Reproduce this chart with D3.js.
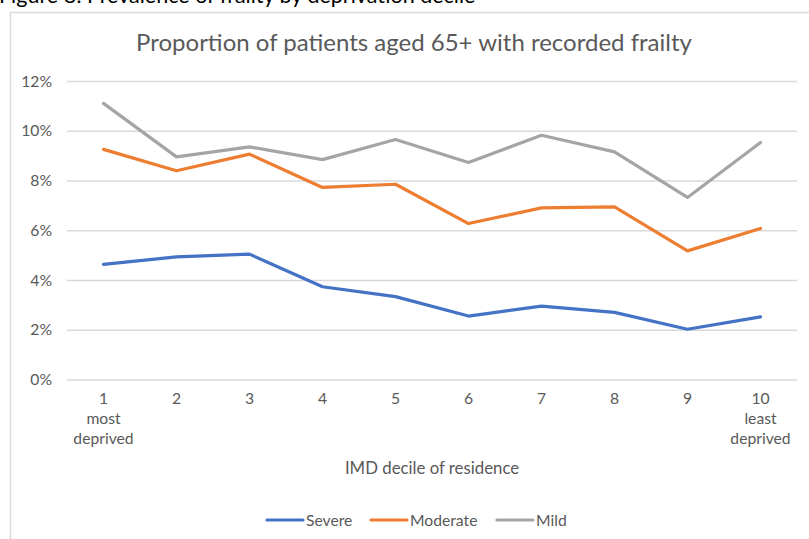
<!DOCTYPE html>
<html>
<head>
<meta charset="utf-8">
<script src="https://cdn.jsdelivr.net/npm/d3@7"></script>
<style>
  html, body { margin: 0; padding: 0; background: #fff; }
  svg { display: block; }
  text { font-family: Lato, "Open Sans", sans-serif; }
</style>
</head>
<body>
<svg id="chart" width="809" height="539"></svg>
<script>
// IMD deciles (1 = most deprived, 10 = least deprived)
const deciles = [1, 2, 3, 4, 5, 6, 7, 8, 9, 10];
const decileNotes = { 1: ["most", "deprived"], 10: ["least", "deprived"] };

// Percentage of patients aged 65+ with recorded frailty, by severity
const severe   = [4.63, 4.93, 5.04, 3.73, 3.33, 2.55, 2.95, 2.70, 2.02, 2.52];
const moderate = [9.25, 8.39, 9.06, 7.72, 7.85, 6.27, 6.90, 6.94, 5.17, 6.07];
const mild     = [11.10, 8.95, 9.35, 8.84, 9.65, 8.72, 9.82, 9.15, 7.32, 9.53];

const yTicks = [0, 2, 4, 6, 8, 10, 12];

const seriesNames = ["Severe", "Moderate", "Mild"];
const seriesColors = ["#4472C4", "#ED7D31", "#A5A5A5"];
const seriesValues = [severe, moderate, mild];

const svg = d3.select("#chart");
const W = 809, H = 539;
const labelSize = 15.7;

// Document caption above the chart frame
svg.append("text")
  .attr("x", -1).attr("y", 3)
  .attr("font-size", 21.5)
  .attr("fill", "#000")
  .text("Figure 8: Prevalence of frailty by deprivation decile");

// Chart frame
svg.append("rect")
  .attr("x", 10.5).attr("y", 12.5)
  .attr("width", W + 10).attr("height", H + 10)
  .attr("fill", "#fff")
  .attr("stroke", "#D9D9D9")
  .attr("stroke-width", 1.5);

const plot = { left: 67, right: 797, top: 81, bottom: 379.5 };

const x = d3.scaleBand()
  .domain(deciles)
  .range([plot.left, plot.right]);

const y = d3.scaleLinear()
  .domain([0, 12])
  .range([plot.bottom, plot.top]);

// Title
svg.append("text")
  .attr("x", 414).attr("y", 51)
  .attr("text-anchor", "middle")
  .attr("font-size", 24)
  .attr("fill", "#595959")
  .text("Proportion of patients aged 65+ with recorded frailty");

// Horizontal gridlines and y labels
const yAxis = d3.axisLeft(y)
  .tickValues(yTicks)
  .tickSize(-(plot.right - plot.left))
  .tickPadding(15)
  .tickFormat(d => d + "%");

const gy = svg.append("g")
  .attr("transform", `translate(${plot.left},0)`)
  .call(yAxis);
gy.select(".domain").remove();
gy.selectAll(".tick line").attr("stroke", "#D9D9D9").attr("stroke-width", 1.3);
gy.selectAll(".tick text")
  .attr("fill", "#595959")
  .attr("font-size", labelSize)
  .attr("font-family", "Lato, sans-serif");

// X axis labels
const xAxis = d3.axisBottom(x).tickSize(0).tickPadding(13);
const gx = svg.append("g")
  .attr("transform", `translate(0,${plot.bottom})`)
  .call(xAxis);
gx.select(".domain").remove();
gx.selectAll(".tick text")
  .attr("fill", "#595959")
  .attr("font-size", labelSize)
  .attr("font-family", "Lato, sans-serif")
  .each(function(d) {
    const notes = decileNotes[d];
    if (!notes) return;
    const t = d3.select(this);
    notes.forEach(n => {
      t.append("tspan")
        .attr("x", 0)
        .attr("dy", "1.27em")
        .text(n);
    });
  });

// X axis title
svg.append("text")
  .attr("x", 432).attr("y", 474)
  .attr("text-anchor", "middle")
  .attr("font-size", 16.8)
  .attr("fill", "#595959")
  .text("IMD decile of residence");

// Series lines
const line = d3.line()
  .x((d, i) => x(deciles[i]) + x.bandwidth() / 2)
  .y(d => y(d));

seriesValues.forEach((vals, k) => {
  svg.append("path")
    .datum(vals)
    .attr("d", line)
    .attr("fill", "none")
    .attr("stroke", seriesColors[k])
    .attr("stroke-width", 3.2)
    .attr("stroke-linejoin", "round")
    .attr("stroke-linecap", "round");
});

// Legend
const legendItems = [
  { name: seriesNames[0], color: seriesColors[0], x: 267 },
  { name: seriesNames[1], color: seriesColors[1], x: 371 },
  { name: seriesNames[2], color: seriesColors[2], x: 497 }
];
const lg = svg.append("g");
legendItems.forEach(it => {
  lg.append("line")
    .attr("x1", it.x).attr("x2", it.x + 36)
    .attr("y1", 520).attr("y2", 520)
    .attr("stroke", it.color)
    .attr("stroke-width", 3.2)
    .attr("stroke-linecap", "round");
  lg.append("text")
    .attr("x", it.x + 39).attr("y", 525.5)
    .attr("font-size", labelSize)
    .attr("fill", "#595959")
    .text(it.name);
});
</script>
</body>
</html>
